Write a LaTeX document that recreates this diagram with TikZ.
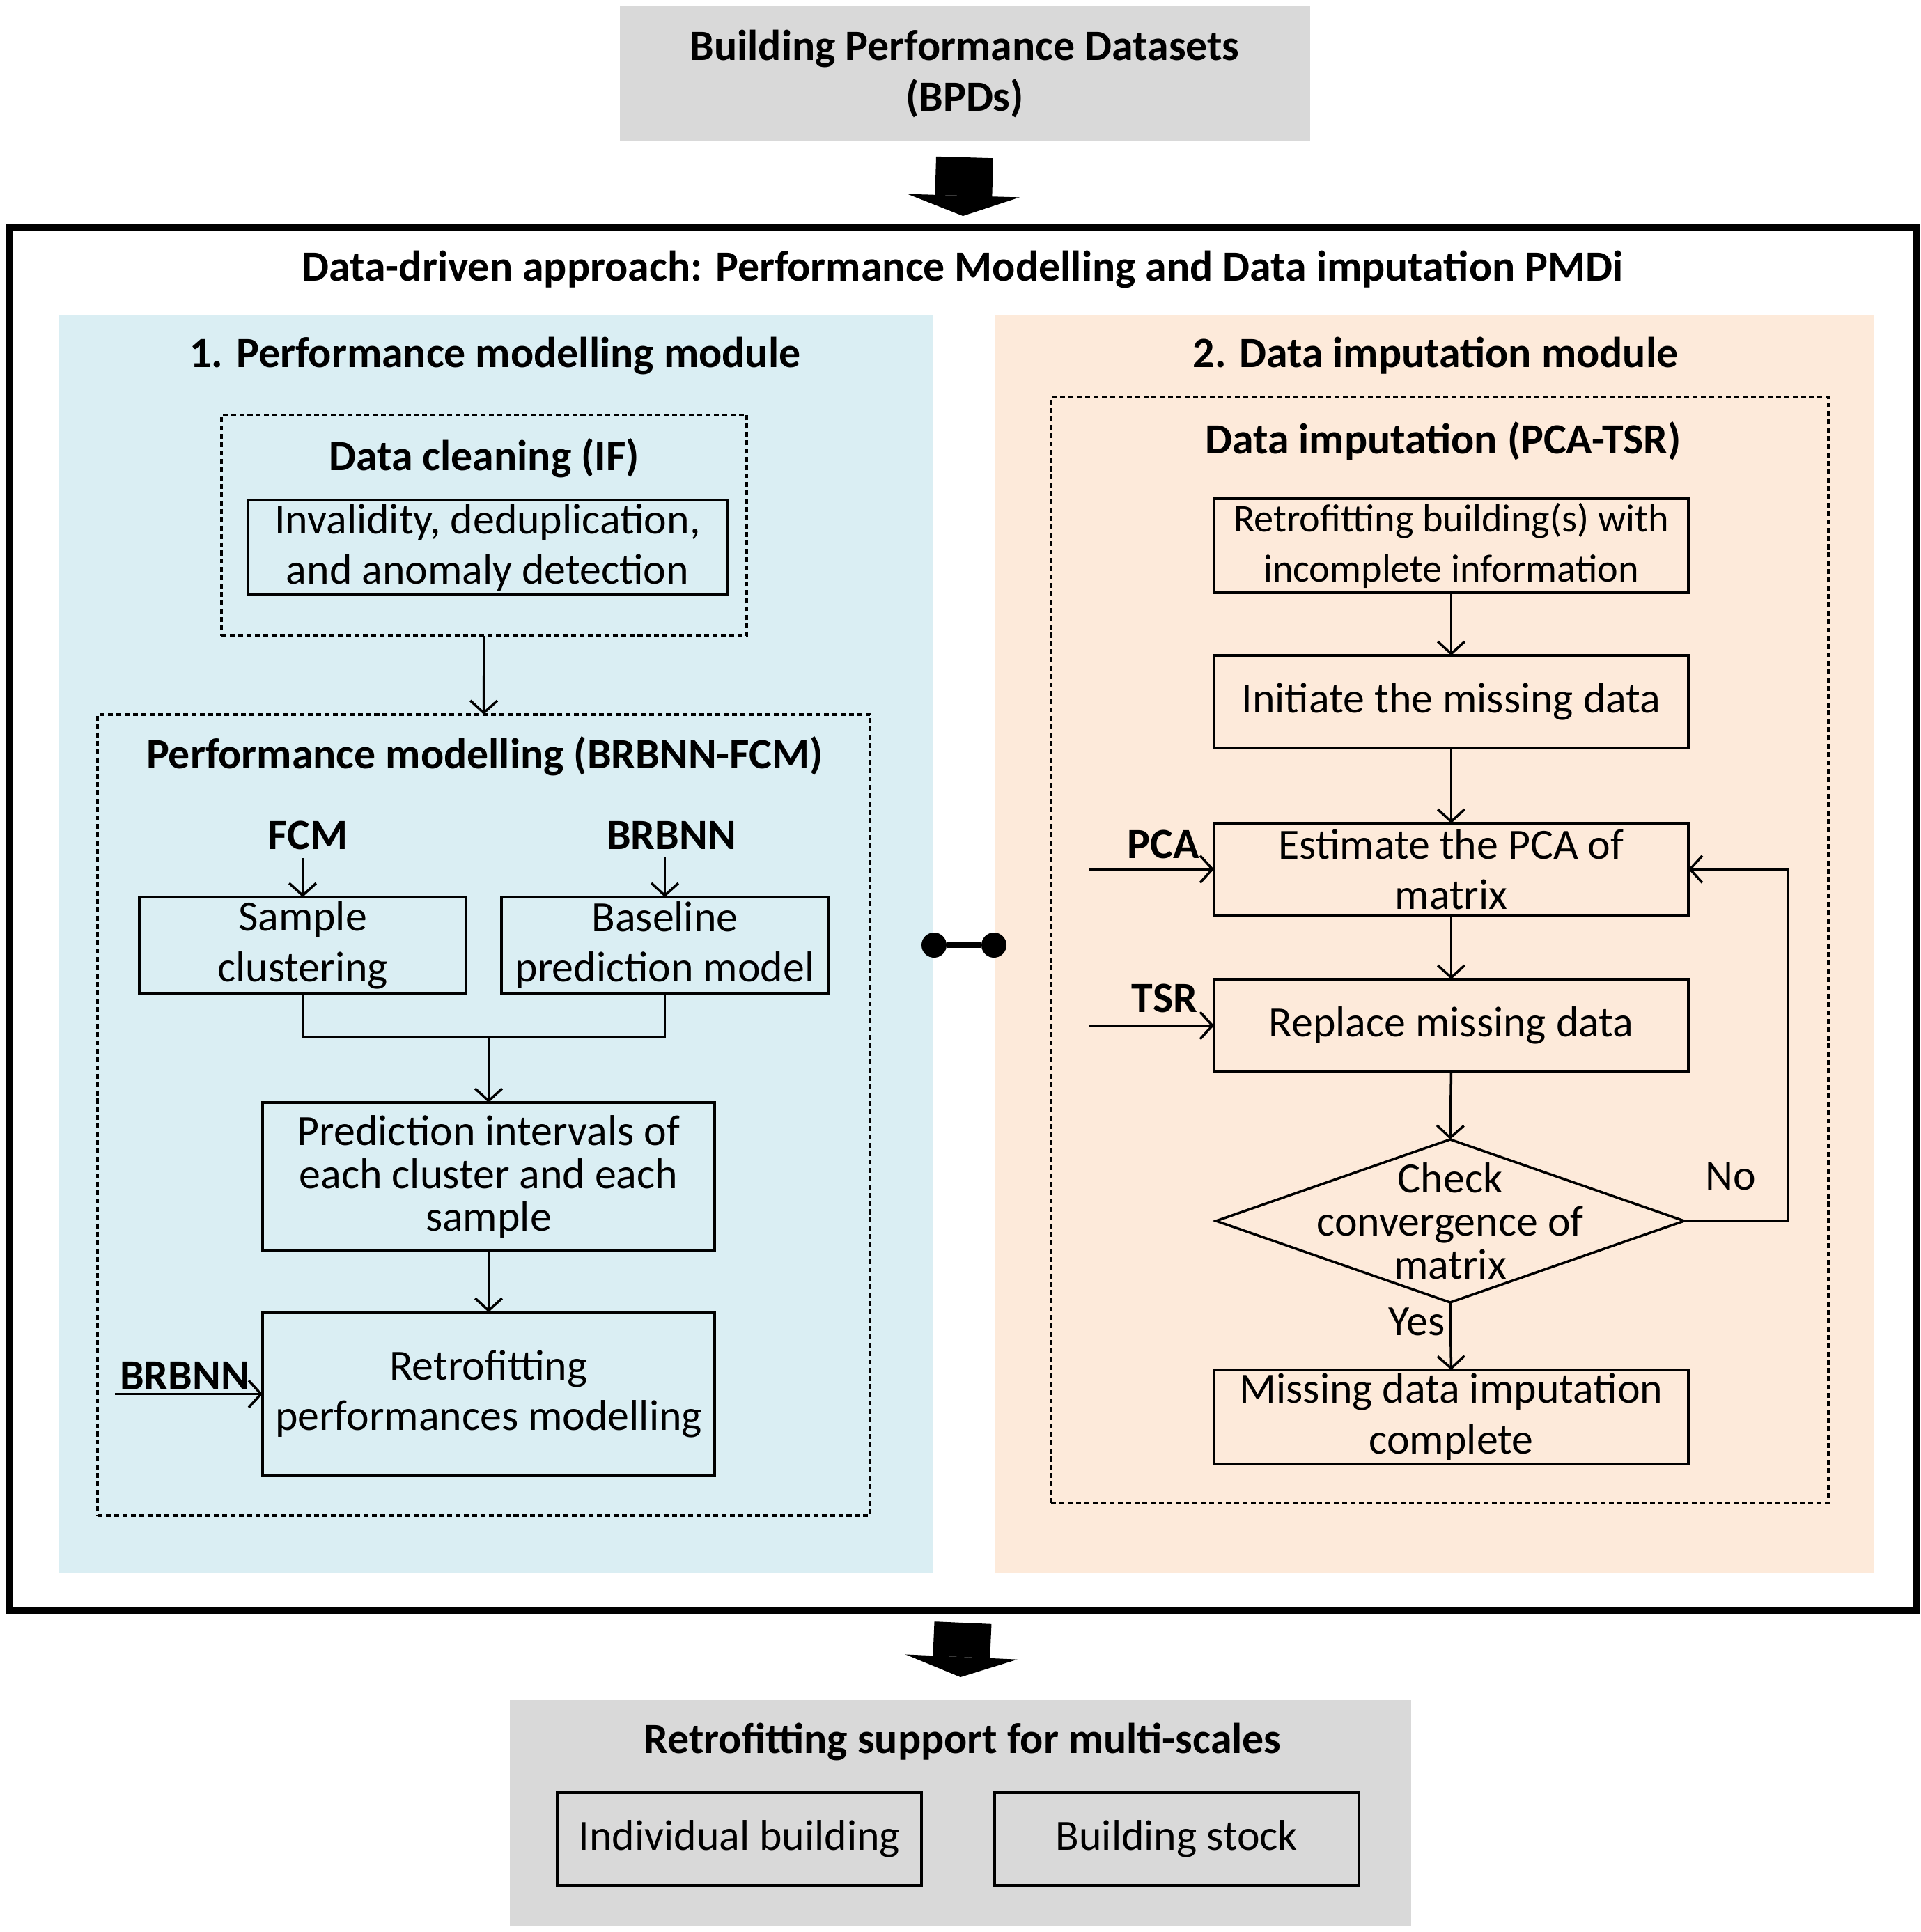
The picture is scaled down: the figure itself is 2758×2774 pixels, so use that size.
\documentclass[tikz,border=0pt]{standalone}
\usepackage{fontspec}
\setmainfont{Carlito}
\usepackage{tikz}
\usetikzlibrary{arrows.meta,shapes.geometric,positioning,calc}
\definecolor{panelBlue}{RGB}{218,238,243}
\definecolor{panelPeach}{RGB}{253,234,218}
\definecolor{boxGray}{RGB}{217,217,217}
\newcommand{\pmdiFont}{\fontsize{17.6}{20.6}\selectfont}
\tikzset{
  procbox/.style={rectangle, draw=black, line width=1pt, align=center,
    inner sep=1pt, outer sep=0pt},
  groupbox/.style={rectangle, draw=black, line width=1pt,
    dash pattern=on 2pt off 1.4pt, outer sep=0pt},
  decision/.style={diamond, draw=black, line width=1pt, inner sep=0pt, outer sep=0pt},
  flowArrow/.style={-{Straight Barb[length=5pt,width=11pt]}, line width=1pt},
  blockArrow/.style={-{Triangle[length=2.9mm,width=16.1mm,line width=0pt]},
    line width=8.2mm, draw=black},
  ttl/.style={font=\pmdiFont\bfseries},
  tight/.style={font=\fontsize{17.6}{17.6}\selectfont}
}

\begin{document}
\begin{tikzpicture}[x=0.1mm, y=-0.1mm, font=\pmdiFont]
  \useasboundingbox (0,0) rectangle (2758,2774);

  % input datasets
  \node[procbox, fill=boxGray, draw=none, minimum width=99.1mm, minimum height=19.4mm, ttl]
    (bpd) at (1385,106) {Building Performance Datasets\\(BPDs)};

  % PMDi frame
  \node[draw=black, line width=2.6pt, minimum width=273.7mm, minimum height=198.6mm,
        outer sep=0pt] (frame) at (1382.5,1319) {};
  \node[ttl] (frameTitle) at (1382,387)
    {Data-driven approach: Performance Modelling and Data imputation PMDi};
  \node[fill=panelBlue, minimum width=125.4mm, minimum height=180.6mm, outer sep=0pt]
    (leftPanel) at (712,1356) {};
  \node[fill=panelPeach, minimum width=126.2mm, minimum height=180.6mm, outer sep=0pt]
    (rightPanel) at (2060,1356) {};
  \node[ttl] (leftTitle) at (711,511) {1. Performance modelling module};
  \node[ttl] (rightTitle) at (2061,511) {2. Data imputation module};

  \draw[blockArrow] ([yshift=-2.3mm]bpd.south) -- ([yshift=1.6mm]frame.north);

  % 1. performance modelling
  \node[groupbox, minimum width=75.4mm, minimum height=31.7mm] (cleanGroup) at (695,754.5) {};
  \node[ttl] (cleanTitle) at (695,658) {Data cleaning (IF)};
  \node[procbox, minimum width=68.8mm, minimum height=13.6mm] (invalid) at (700,786)
    {Invalidity, deduplication,\\and anomaly detection};

  \node[groupbox, minimum width=110.9mm, minimum height=115mm] (pmGroup) at (694.5,1601) {};
  \node[ttl] (pmTitle) at (696,1086) {Performance modelling (BRBNN-FCM)};
  \node[ttl] (fcm) at (442,1199) {FCM};
  \node[ttl] (brbnnTop) at (964,1199) {BRBNN};
  \node[procbox, minimum width=46.9mm, minimum height=13.8mm] (sample) at (434.5,1357)
    {Sample\\clustering};
  \node[procbox, minimum width=46.9mm, minimum height=13.8mm] (baseline) at (954.5,1357)
    {Baseline\\prediction model};
  \coordinate (merge) at (701.5,1489);
  \node[procbox, tight, minimum width=64.9mm, minimum height=21.3mm] (interval) at (701.5,1689.5)
    {Prediction intervals of\\each cluster and each\\sample};
  \node[procbox, minimum width=64.9mm, minimum height=23.5mm] (retroModel) at (701.5,2001.5)
    {Retrofitting\\performances modelling};
  \node[ttl] (brbnnIn) at (265,1975) {BRBNN};
  \coordinate (brbnnStart) at (165,2001.5);

  \draw[flowArrow] (cleanGroup.south) -- (pmGroup.north);
  \draw[flowArrow] (sample.north |- fcm.south) -- (sample.north);
  \draw[flowArrow] (baseline.north |- brbnnTop.south) -- (baseline.north);
  \draw[line width=1pt] (sample.south) |- (merge) -| (baseline.south);
  \draw[flowArrow] (merge) -- (interval.north);
  \draw[flowArrow] (interval.south) -- (retroModel.north);
  \draw[flowArrow] (brbnnStart) -- (retroModel.west);

  % link between modules
  \node[circle, fill=black, minimum size=3.6mm, inner sep=0pt] (dotL) at (1341,1357) {};
  \node[circle, fill=black, minimum size=3.6mm, inner sep=0pt] (dotR) at (1427,1357) {};
  \draw[line width=0.8mm] (dotL) -- (dotR);

  % 2. data imputation
  \node[groupbox, minimum width=111.6mm, minimum height=158.8mm] (diGroup) at (2067,1364) {};
  \node[ttl] (diTitle) at (2072,633) {Data imputation (PCA-TSR)};
  \node[procbox, font=\fontsize{16}{20.6}\selectfont, minimum width=68.1mm, minimum height=13.5mm]
    (retroIn) at (2083.5,783.5) {Retrofitting building(s) with\\incomplete information};
  \node[procbox, minimum width=68.1mm, minimum height=13.3mm] (initiate) at (2083.5,1007.5)
    {Initiate the missing data};
  \node[procbox, minimum width=68.1mm, minimum height=13.2mm] (estimate) at (2083.5,1248)
    {Estimate the PCA of\\matrix};
  \node[procbox, minimum width=68.1mm, minimum height=13.3mm] (replace) at (2083.5,1472.5)
    {Replace missing data};
  \node[decision, minimum width=67.2mm, minimum height=23.4mm,
        label={[tight, align=center]center:Check\\convergence of\\matrix}] (check) at (2082,1753) {};
  \node[procbox, minimum width=68.1mm, minimum height=13.5mm] (complete) at (2083.5,2034.5)
    {Missing data imputation\\complete};
  \node[ttl] (pca) at (1670,1212) {PCA};
  \coordinate (pcaStart) at (1563,1248);
  \node[ttl] (tsr) at (1672,1433) {TSR};
  \coordinate (tsrStart) at (1563,1472.5);
  \node (noLbl) at (2485,1689) {No};
  \node (yesLbl) at (2034,1898) {Yes};

  \draw[flowArrow] (retroIn.south) -- (initiate.north);
  \draw[flowArrow] (initiate.south) -- (estimate.north);
  \draw[flowArrow] (estimate.south) -- (replace.north);
  \draw[flowArrow] (replace.south) -- (check.north);
  \draw[flowArrow] (check.south) -- (complete.north);
  \draw[flowArrow] (check.east) -- ++(149,0) |- (estimate.east);
  \draw[flowArrow] (pcaStart) -- (estimate.west);
  \draw[flowArrow] (tsrStart) -- (replace.west);

  % output
  \node[fill=boxGray, minimum width=129.4mm, minimum height=32.4mm, outer sep=0pt]
    (support) at (1379,2603) {};
  \node[ttl] (supportTitle) at (1382,2501) {Retrofitting support for multi-scales};
  \node[procbox, minimum width=52.3mm, minimum height=13.3mm] (individual) at (1061.5,2640.5)
    {Individual building};
  \node[procbox, minimum width=52.3mm, minimum height=13.3mm] (stock) at (1689.5,2640.5)
    {Building stock};

  \draw[blockArrow] ([yshift=-1.8mm]frame.south) -- ([yshift=3.3mm]support.north);
\end{tikzpicture}
\end{document}
